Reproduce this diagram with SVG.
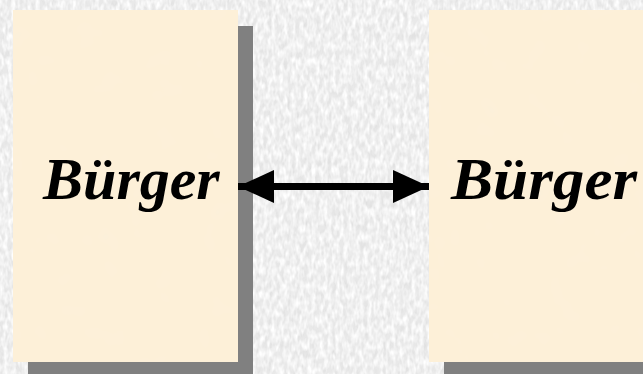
<svg xmlns="http://www.w3.org/2000/svg" width="643" height="374" viewBox="0 0 643 374">
  <style>
    .shadow { fill: #808080; }
    .card { fill: #fdf0d8; }
    .label { font-family: "Liberation Serif", "Times New Roman", serif; font-weight: bold; font-style: italic; font-size: 60px; fill: #000000; }
    .link { stroke: #000000; stroke-width: 7; fill: none; }
  </style>
  <defs>
    <!-- grainy grey marble backdrop: light base with streaky grey flecks -->
    <filter id="grain" x="0" y="0" width="100%" height="100%">
      <feTurbulence type="fractalNoise" baseFrequency="0.22 0.1" numOctaves="3" seed="11" result="n"/>
      <feColorMatrix in="n" type="matrix" values="0 0 0 0 0.74  0 0 0 0 0.74  0 0 0 0 0.74  2.0 0 0 0 -0.85" result="dark"/>
      <feTurbulence type="fractalNoise" baseFrequency="0.25 0.12" numOctaves="2" seed="4" result="m"/>
      <feColorMatrix in="m" type="matrix" values="0 0 0 0 1  0 0 0 0 1  0 0 0 0 1  2.2 0 0 0 -0.75" result="light"/>
      <feMerge>
        <feMergeNode in="SourceGraphic"/>
        <feMergeNode in="dark"/>
        <feMergeNode in="light"/>
      </feMerge>
    </filter>
    <!-- faint paper mottling on the cards -->
    <filter id="paper" x="0" y="0" width="100%" height="100%">
      <feTurbulence type="fractalNoise" baseFrequency="0.04" numOctaves="2" seed="3" result="n"/>
      <feColorMatrix in="n" type="matrix" values="0 0 0 0 0.96  0 0 0 0 0.89  0 0 0 0 0.74  0.45 0 0 0 -0.2" result="tint"/>
      <feComposite in="tint" in2="SourceGraphic" operator="atop"/>
    </filter>
    <marker id="head" viewBox="0 0 36 33" refX="36" refY="16.5" markerWidth="36" markerHeight="33" markerUnits="userSpaceOnUse" orient="auto-start-reverse">
      <path d="M0,0 L36,16.5 L0,33 Z" fill="#000000"/>
    </marker>
  </defs>

  <rect x="0" y="0" width="643" height="374" fill="#e9e9e9" filter="url(#grain)"/>

  <g id="buerger-left">
    <rect class="shadow" x="28" y="26" width="225" height="348"/>
    <rect class="card" x="13" y="10" width="225" height="352" filter="url(#paper)"/>
    <text class="label" x="43" y="199">Bürger</text>
  </g>

  <g id="buerger-right">
    <rect class="shadow" x="444" y="26" width="199" height="348"/>
    <rect class="card" x="429" y="10" width="214" height="352" filter="url(#paper)"/>
    <text class="label" x="451" y="199" textLength="186" lengthAdjust="spacingAndGlyphs">Bürger</text>
  </g>

  <g id="connectors">
    <line class="link" x1="238" y1="186.5" x2="429" y2="186.5" marker-start="url(#head)" marker-end="url(#head)"/>
  </g>
</svg>
